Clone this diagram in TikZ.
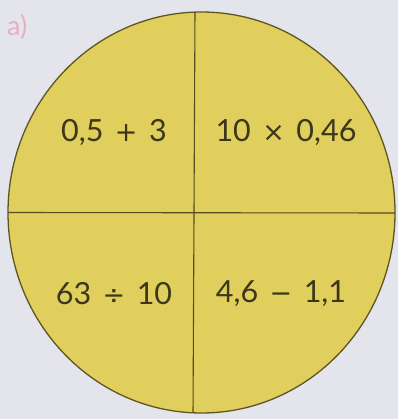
\documentclass[tikz,border=0pt]{standalone}
\usepackage{fontspec}
\setmainfont{Lato}
\newfontfamily\opfont{DejaVu Sans}
\newcommand{\myop}[1]{\hspace{0.12em}{\opfont\fontsize{27}{30}\selectfont #1}\hspace{0.12em}}
\definecolor{bgc}{RGB}{228,228,236}
\definecolor{disc}{RGB}{224,207,92}
\definecolor{rim}{RGB}{95,85,35}
\definecolor{labc}{RGB}{228,178,190}
\definecolor{txt}{RGB}{60,55,25}
\tikzset{
  expr/.style={font=\fontsize{30.5}{32}\selectfont, text=txt, inner sep=0pt, anchor=center},
  divider/.style={draw=rim!90!black, line width=1.1pt}
}
\begin{document}
\begin{tikzpicture}[x=1pt,y=-1pt]
\fill[bgc] (0,0) rectangle (398,419);
\useasboundingbox (0,0) rectangle (398,419);
\node[font=\fontsize{27}{29}\selectfont, text=labc, inner sep=0pt, anchor=north west] (lab) at (7,14) {a)};
\coordinate (c) at (201.5,212.5);
\fill[disc] (c) ellipse [x radius=193.5, y radius=200.5];
\begin{scope}
\clip (c) ellipse [x radius=193.5, y radius=200.5];
\coordinate (vt) at (195,10);
\coordinate (vb) at (193,416);
\coordinate (hl) at (5,212.5);
\coordinate (hr) at (398,213);
\draw[divider] (vt) -- (vb);
\draw[divider] (hl) -- (hr);
\end{scope}
\draw[rim, line width=1.3pt] (c) ellipse [x radius=193.5, y radius=200.5];
\node[expr] (q1) at (114,133) {0,5 \myop{+} 3};
\node[expr] (q2) at (286,133) {10 \myop{×} 0,46};
\node[expr] (q3) at (114,294) {63 \myop{÷} 10};
\node[expr] (q4) at (281,294) {4,6 \myop{−} 1,1};
\end{tikzpicture}
\end{document}
